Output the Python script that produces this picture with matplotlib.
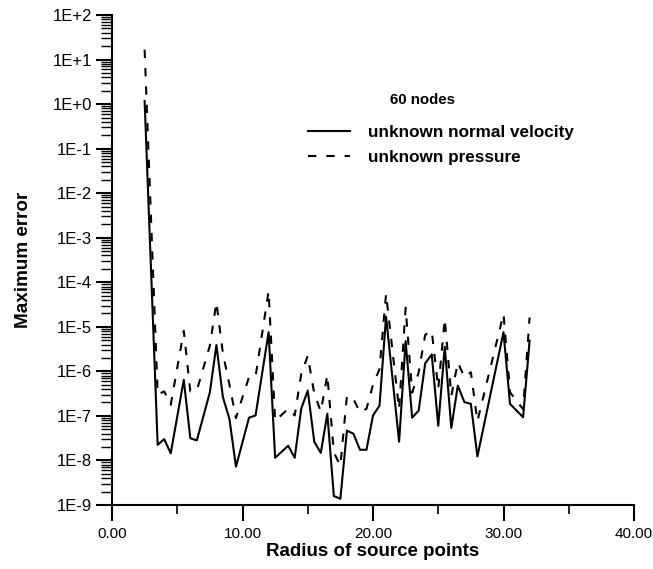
import matplotlib
matplotlib.use("Agg")
import matplotlib.pyplot as plt
from matplotlib.ticker import LogLocator, FixedLocator, NullFormatter
import numpy as np

# ---- data (log10 of maximum error) ----
x_velocity = [2.5, 3.5, 4.0, 4.5, 5.5, 6.0, 6.5, 7.5, 8.0, 8.5, 9.0, 9.5,
              10.5, 11.0, 12.0, 12.5, 13.5, 14.0, 14.5, 15.0, 15.5, 16.0,
              16.5, 17.0, 17.5, 18.0, 18.5, 19.0, 19.5, 20.0, 20.5, 21.0,
              22.0, 22.5, 23.0, 23.5, 24.0, 24.5, 25.0, 25.5, 26.0, 26.5,
              27.0, 27.5, 28.0, 30.0, 30.5, 31.5, 32.0]
log_velocity = [0.07, -7.65, -7.52, -7.84, -6.19, -7.50, -7.55, -6.47, -5.41,
                -6.58, -7.07, -8.14, -7.04, -6.99, -5.12, -7.94, -7.67, -7.94,
                -6.84, -6.43, -7.58, -7.83, -6.95, -8.80, -8.86, -7.33, -7.40,
                -7.76, -7.76, -6.99, -6.77, -4.77, -7.58, -5.32, -7.04, -6.88,
                -5.82, -5.62, -7.22, -5.45, -7.27, -6.32, -6.69, -6.73, -7.91,
                -5.12, -6.73, -7.03, -5.31]

x_pressure = [2.5, 3.5, 4.0, 4.5, 5.5, 6.0, 6.5, 7.5, 8.0, 8.5, 9.0, 9.5,
              10.0, 10.5, 11.0, 12.0, 12.5, 13.5, 14.0, 14.5, 15.0, 15.5,
              16.0, 16.5, 17.0, 17.5, 18.0, 18.5, 19.0, 19.5, 20.0, 20.5,
              21.0, 22.0, 22.5, 23.0, 23.5, 24.0, 24.5, 25.0, 25.5, 26.0,
              26.5, 27.0, 27.5, 28.0, 30.0, 30.5, 31.5, 32.0]
log_pressure = [1.22, -6.52, -6.45, -6.75, -5.09, -6.45, -6.43, -5.42, -4.45,
                -5.60, -6.30, -7.05, -6.58, -6.13, -6.12, -4.20, -7.11, -6.84,
                -6.99, -6.06, -5.65, -6.50, -6.90, -6.08, -7.82, -8.12, -6.55,
                -6.62, -6.92, -6.84, -6.30, -5.95, -4.26, -6.85, -4.57, -6.48,
                -6.02, -5.18, -5.09, -6.39, -4.82, -6.55, -5.80, -6.13, -6.02,
                -7.12, -4.71, -6.47, -6.85, -4.79]

velocity = [10.0 ** v for v in log_velocity]
pressure = [10.0 ** v for v in log_pressure]

x_ticks = [0, 10, 20, 30, 40]
x_tick_labels = ["0.00", "10.00", "20.00", "30.00", "40.00"]
y_exponents = list(range(-9, 3))
y_tick_labels = ["1E%+d" % e for e in y_exponents]

title_text = "60 nodes"
label_velocity = "unknown normal velocity"
label_pressure = "unknown pressure"
x_title = "Radius of source points"
y_title = "Maximum error"

# ---- figure ----
plt.rcParams['font.family'] = ['Liberation Sans', 'DejaVu Sans']
W, H = 653, 569
fig = plt.figure(figsize=(W / 100, H / 100), dpi=100)
ax = fig.add_axes([112 / W, 1 - 505 / H, (634 - 112) / W, (505 - 15) / H])

ax.plot(x_velocity, velocity, color='black', lw=1.5, linestyle='-',
        label=label_velocity)
ax.plot(x_pressure, pressure, color='black', lw=1.5,
        linestyle=(0, (4.0, 4.8)), label=label_pressure)

ax.set_yscale('log')
ax.set_xlim(0, 40)
ax.set_ylim(1e-9, 1e2)

ax.set_xticks(x_ticks)
ax.set_xticklabels(x_tick_labels, fontsize=11)
ax.xaxis.set_minor_locator(FixedLocator([5, 15, 25, 35]))

ax.set_yticks([10.0 ** e for e in y_exponents])
ax.set_yticklabels(y_tick_labels, fontsize=12)
ax.yaxis.set_minor_locator(LogLocator(base=10, subs=np.arange(2, 10), numticks=30))
ax.yaxis.set_minor_formatter(NullFormatter())

for s in ['top', 'right']:
    ax.spines[s].set_visible(False)
for s in ['left', 'bottom']:
    ax.spines[s].set_linewidth(1.5)

ax.tick_params(axis='x', which='major', direction='out', length=11.5, width=1.5, pad=4)
ax.tick_params(axis='x', which='minor', direction='out', length=6.5, width=1.2)
ax.tick_params(axis='y', which='major', direction='out', length=11.5, width=1.5, pad=3)
ax.tick_params(axis='y', which='minor', direction='out', length=8, width=1.0)

ax.set_xlabel(x_title, fontsize=13.5, fontweight='bold', labelpad=2)
ax.set_ylabel(y_title, fontsize=13.6, fontweight='bold', labelpad=15)

fig.text(422 / W, 1 - 100 / H, title_text, fontsize=10.8, fontweight='bold',
         ha='center', va='center')

leg = ax.legend(loc='upper left', bbox_to_anchor=(308 / W, 1 - 125 / H),
                bbox_transform=fig.transFigure, frameon=False,
                prop={'size': 12.3, 'weight': 'bold'},
                handlelength=2.45, handletextpad=1.05, labelspacing=0.6,
                borderpad=0, borderaxespad=0)

fig.savefig("out.png", dpi=100)
